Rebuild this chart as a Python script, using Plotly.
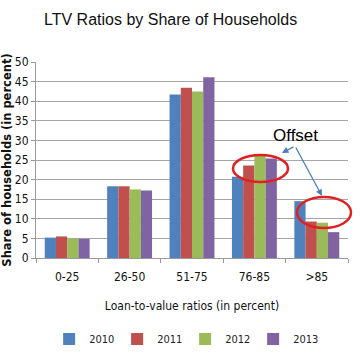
import plotly.graph_objects as go

categories = ["0-25", "26-50", "51-75", "76-85", ">85"]
years = ["2010", "2011", "2012", "2013"]
v2010 = [5.2, 18.3, 41.7, 20.7, 14.5]
v2011 = [5.5, 18.3, 43.4, 23.6, 9.3]
v2012 = [5.0, 17.5, 42.5, 26.3, 9.0]
v2013 = [4.9, 17.2, 46.1, 25.4, 6.6]
series = [v2010, v2011, v2012, v2013]
colors = ["#4F81BD", "#C0504D", "#9BBB59", "#8064A2"]

narrow = "DejaVu Sans Condensed, Liberation Sans Narrow, sans-serif"

fig = go.Figure()
for name, vals, c in zip(years, series, colors):
    fig.add_trace(go.Bar(x=categories, y=vals, name=name, marker_color=c,
                         marker_line_width=0))

fig.update_layout(
    width=363, height=355,
    margin=dict(l=36, r=15, t=62, b=97, autoexpand=False),
    paper_bgcolor="white", plot_bgcolor="white",
    barmode="group", bargap=0.28, bargroupgap=0,
    showlegend=True,
    legend=dict(orientation="h", xref="container", yref="container",
                x=0.51, xanchor="center", y=1 - 339 / 355, yanchor="middle",
                font=dict(family=narrow, size=11, color="#222"),
                itemwidth=30, entrywidth=23, entrywidthmode="pixels",
                traceorder="normal"),
    title=dict(text="LTV Ratios by Share of Households", x=0.47, xanchor="center",
               yref="container", y=1 - 19 / 355, yanchor="middle",
               font=dict(family="Liberation Sans, Arial, sans-serif", size=16, color="#111")),
)
fig.update_xaxes(
    type="category", tickson="boundaries", ticks="outside", ticklen=4,
    tickcolor="#999", showline=True, linecolor="#999", linewidth=1,
    ticklabelstandoff=8,
    tickfont=dict(family=narrow, size=12, color="#111"),
    title=dict(text="Loan-to-value ratios (in percent)",
               font=dict(family=narrow, size=12, color="#111"), standoff=18),
    showgrid=False,
)
fig.update_yaxes(
    range=[0, 50], dtick=5, ticks="outside", ticklen=4, tickcolor="#999",
    showline=True, linecolor="#999", linewidth=1,
    showgrid=True, gridcolor="#a6a6a6", gridwidth=1,
    tickfont=dict(family=narrow, size=12, color="#111"),
    title=dict(text="<b>Share of households (in percent)</b>",
               font=dict(family="DejaVu Sans, sans-serif", size=11.5, color="#111"),
               standoff=3),
)

# annotation ellipses (paper coordinates)
W, H = 363, 355
l, r, t, b = 36, 15, 62, 97
pw, ph = W - l - r, H - t - b
def px(x):
    return (x - l) / pw
def py(y):
    return (H - b - y) / ph

fig.add_shape(type="circle", xref="paper", yref="paper",
              x0=px(233), x1=px(288), y0=py(182), y1=py(155),
              line=dict(color="#E02020", width=2.5))
fig.add_shape(type="circle", xref="paper", yref="paper",
              x0=px(297), x1=px(351), y0=py(228), y1=py(197),
              line=dict(color="#E02020", width=2.5))

fig.add_annotation(text="Offset", xref="paper", yref="paper",
                   x=px(295), y=py(135), xanchor="center", yanchor="middle",
                   showarrow=False,
                   font=dict(family="Liberation Sans, Arial, sans-serif", size=17, color="#000"))
fig.add_annotation(xref="paper", yref="paper",
                   x=px(282), y=py(153), ax=13, ay=-7, text="", showarrow=True,
                   arrowhead=2, arrowsize=1, arrowwidth=1.3, arrowcolor="#4A7EBB")
fig.add_annotation(xref="paper", yref="paper",
                   x=px(322), y=py(196), ax=-27, ay=-50, text="", showarrow=True,
                   arrowhead=2, arrowsize=1, arrowwidth=1.3, arrowcolor="#4A7EBB")

fig.write_html("out.html", config={"displayModeBar": False},
               post_script="document.body.style.margin='0';")
